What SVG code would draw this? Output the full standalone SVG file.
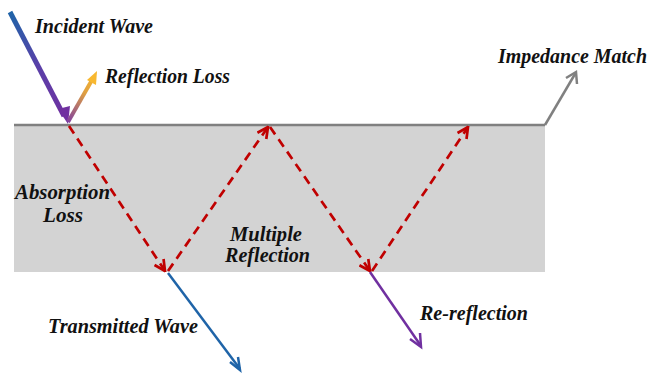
<svg xmlns="http://www.w3.org/2000/svg" width="651" height="374" viewBox="0 0 651 374">
<style>
.lbl{font-family:"Liberation Serif","Times New Roman",serif;font-weight:bold;font-style:italic;font-size:20.5px;fill:#111}
.dash{stroke:#c00000;stroke-width:2.7;stroke-dasharray:9,6;fill:none}
</style>
<defs>
<linearGradient id="gInc" gradientUnits="userSpaceOnUse" x1="10" y1="12" x2="67" y2="122">
<stop offset="0" stop-color="#1f64a8"/><stop offset="0.5" stop-color="#5a3fa8"/><stop offset="1" stop-color="#7030a0"/>
</linearGradient>
<linearGradient id="gRef" gradientUnits="userSpaceOnUse" x1="68" y1="122" x2="96" y2="73">
<stop offset="0" stop-color="#8040a0"/><stop offset="0.6" stop-color="#e0a040"/><stop offset="1" stop-color="#f8b830"/>
</linearGradient>
<marker id="aRed" viewBox="0 0 10 10" refX="9" refY="5" markerWidth="5" markerHeight="5" orient="auto" markerUnits="strokeWidth">
<path d="M1,1 L9,5 L1,9" fill="none" stroke="#c00000" stroke-width="2"/>
</marker>
</defs>
<g id="medium">
<rect x="14" y="125" width="531" height="147" fill="#d3d3d3"/>
<line x1="14" y1="125" x2="545" y2="125" stroke="#808080" stroke-width="2.5"/>
</g>
<g id="connectors">
<path d="M10,12 L64,116" stroke="url(#gInc)" stroke-width="5" fill="none"/>
<path d="M58,109 L68,124 L70,106 Z" fill="#7030a0"/>
<path d="M68,122 L92,80" stroke="url(#gRef)" stroke-width="4" fill="none"/>
<path d="M87,80 L97,71 L96,85 Z" fill="#f8b830"/>
<path d="M545,125 L575,74" stroke="#808080" stroke-width="2.5" fill="none"/>
<path d="M566,78 L576,72 L577,84" stroke="#808080" stroke-width="2.5" fill="none"/>
<path class="dash" d="M69,126 L165,271" marker-end="url(#aRed)"/>
<path class="dash" d="M168,271 L268,127" marker-end="url(#aRed)"/>
<path class="dash" d="M270,127 L370,271" marker-end="url(#aRed)"/>
<path class="dash" d="M372,271 L468,127" marker-end="url(#aRed)"/>
<path d="M168,273 L240,369" stroke="#1f64a8" stroke-width="2.5" fill="none"/>
<path d="M230,362 L240,370 L238,357" stroke="#1f64a8" stroke-width="2.5" fill="none"/>
<path d="M370,272 L421,346" stroke="#7030a0" stroke-width="2.5" fill="none"/>
<path d="M410,339 L421,347 L420,333" stroke="#7030a0" stroke-width="2.5" fill="none"/>
</g>
<g id="labels">
<text class="lbl" x="35" y="33" textLength="118" lengthAdjust="spacingAndGlyphs">Incident Wave</text>
<text class="lbl" x="105" y="83" textLength="125" lengthAdjust="spacingAndGlyphs">Reflection Loss</text>
<text class="lbl" x="498" y="63" textLength="149" lengthAdjust="spacingAndGlyphs">Impedance Match</text>
<text class="lbl" x="15" y="199" textLength="95" lengthAdjust="spacingAndGlyphs">Absorption</text>
<text class="lbl" x="43" y="222" textLength="40" lengthAdjust="spacingAndGlyphs">Loss</text>
<text class="lbl" x="230" y="241" textLength="72" lengthAdjust="spacingAndGlyphs">Multiple</text>
<text class="lbl" x="225" y="262" textLength="85" lengthAdjust="spacingAndGlyphs">Reflection</text>
<text class="lbl" x="48" y="333" textLength="150" lengthAdjust="spacingAndGlyphs">Transmitted Wave</text>
<text class="lbl" x="420" y="320" textLength="108" lengthAdjust="spacingAndGlyphs">Re-reflection</text>
</g>
</svg>
